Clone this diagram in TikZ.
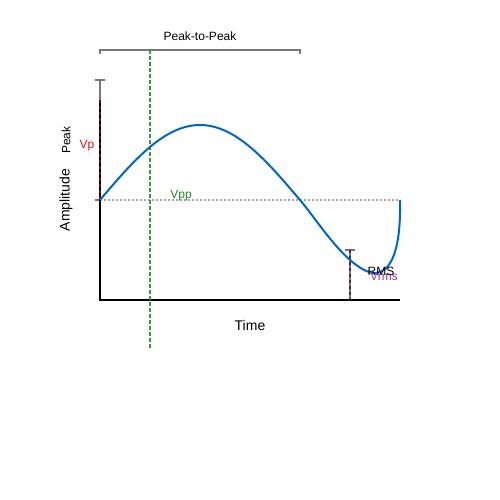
\documentclass[tikz,border=0pt]{standalone}
\usepackage{fontspec}
\setmainfont{Liberation Sans}
\definecolor{curveblue}{HTML}{0066CC}
\definecolor{vgreen}{HTML}{228B22}
\definecolor{vred}{HTML}{DD1111}
\definecolor{dred}{HTML}{8B0000}
\definecolor{vpurple}{HTML}{993399}
\definecolor{dpurple}{HTML}{5A1A5A}
\definecolor{bargray}{HTML}{777777}
\begin{document}
\begin{tikzpicture}[x=1pt,y=-1pt,
  lbl/.style={inner sep=0pt,font=\fontsize{12}{14}\selectfont},
  biglbl/.style={inner sep=0pt,font=\fontsize{14}{16}\selectfont},
  barline/.style={draw=bargray,line width=1.5pt},
  axisline/.style={draw=black,line width=2pt}]
\useasboundingbox (0,0) rectangle (500,500);
\fill[white] (0,0) rectangle (500,500);
% reference line at zero
\draw[draw=black!35,line width=1.5pt,dash pattern=on 2pt off 2pt] (100,200) -- (400,200);
% peak bar
\draw[barline] (100,80) -- (100,200);
\draw[barline] (95,80) -- (105,80);
\draw[barline] (95,200) -- (100,200);
% axes
\draw[axisline] (100,100) -- (100,300) -- (400,300);
\draw[draw=dred,line width=2pt,dash pattern=on 3pt off 3pt] (100,100) -- (100,200);
% RMS bar
\draw[barline] (350,250) -- (350,300);
\draw[barline] (345,250) -- (355,250);
\draw[draw=dpurple,line width=1.5pt,dash pattern=on 3pt off 3pt] (350,250) -- (350,300);
% peak-to-peak bracket
\draw[barline] (100,54) -- (100,50) -- (300,50) -- (300,54);
% green dashed
\draw[draw=vgreen!90!white,line width=2pt,dash pattern=on 4pt off 2pt] (150,50) -- (150,348);
% curve
\draw[draw=curveblue,line width=2pt,line join=round]
  plot[domain=100:300,samples=60] (\x,{200-75*sin((\x-100)*0.9)})
  .. controls (318,221) and (345,266) .. (372,273)
  .. controls (393,275) and (401,245) .. (400,200);
% labels
\node[lbl] (ptp) at (200,36) {Peak-to-Peak};
\node[biglbl,rotate=90] (amp) at (66,200) {Amplitude};
\node[lbl,rotate=90] (peak) at (66,140) {Peak};
\node[lbl,text=vred] (vp) at (87,146) {Vp};
\node[lbl,text=vgreen] (vpp) at (181,196) {Vpp};
\node[biglbl] (time) at (250,325) {Time};
\node[lbl,text=vpurple] (vrms) at (384,276) {Vrms};
\node[lbl] (rms) at (381,271) {RMS};
\end{tikzpicture}
\end{document}
